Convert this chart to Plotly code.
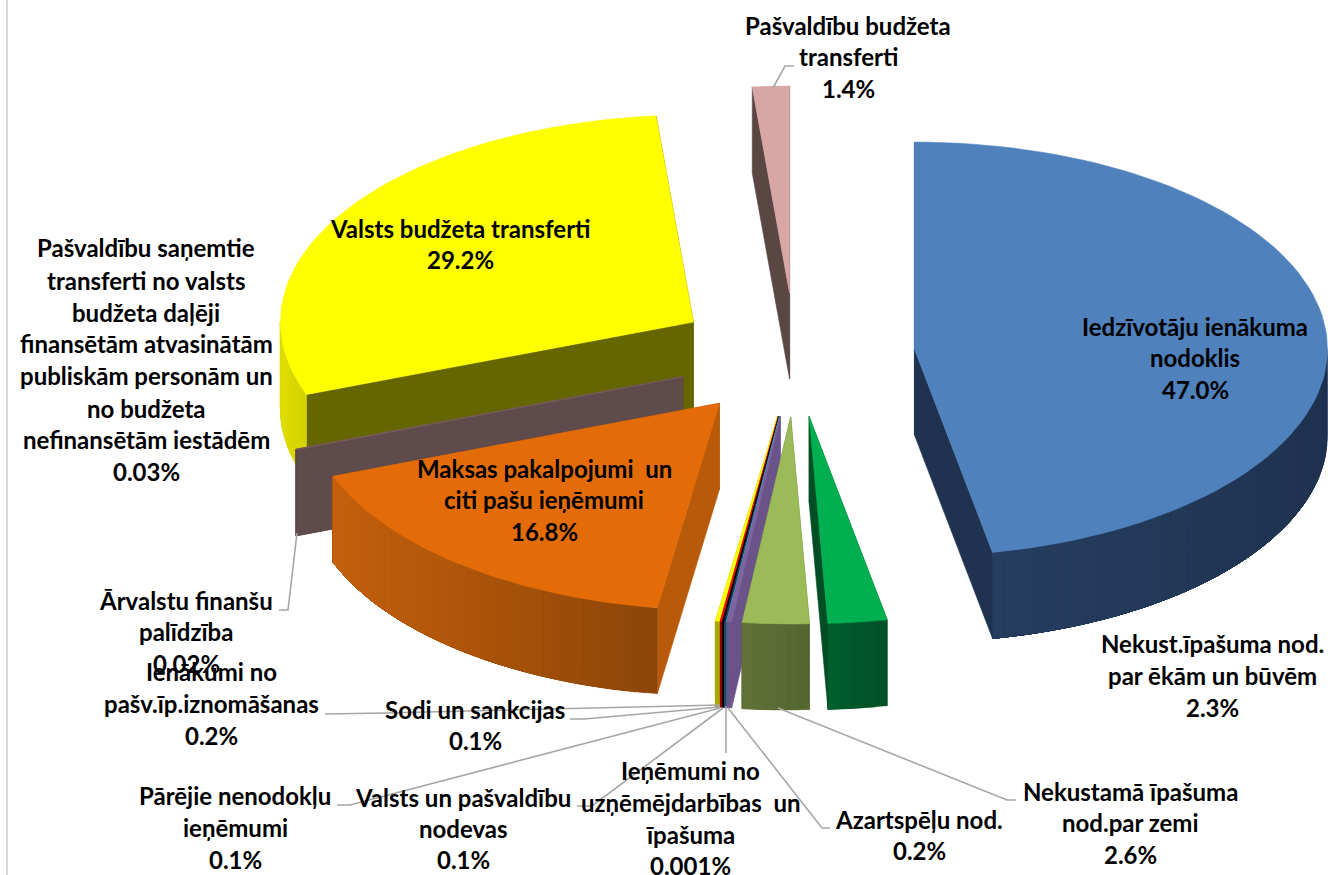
import math
import plotly.graph_objects as go

# ---- data: clockwise from 12 o'clock ----
categories = [
    "Iedzīvotāju ienākuma nodoklis",
    "Nekust.īpašuma nod. par ēkām un būvēm",
    "Nekustamā īpašuma nod.par zemi",
    "Azartspēļu nod.",
    "Ieņēmumi no uzņēmējdarbības un īpašuma",
    "Valsts un pašvaldību nodevas",
    "Pārējie nenodokļu ieņēmumi",
    "Sodi un sankcijas",
    "Ienākumi no pašv.īp.iznomāšanas",
    "Maksas pakalpojumi un citi pašu ieņēmumi",
    "Ārvalstu finanšu palīdzība",
    "Pašvaldību saņemtie transferti no valsts budžeta daļēji finansētām atvasinātām publiskām personām un no budžeta nefinansētām iestādēm",
    "Valsts budžeta transferti",
    "Pašvaldību budžeta transferti",
]
# slice sizes; the printed labels are these values rounded
values = [46.95, 2.3, 2.6, 0.17, 0.001, 0.07, 0.06, 0.07, 0.16, 16.84, 0.02, 0.03, 29.24, 1.44]

top_colors = ["#4f81bd", "#00b050", "#9bbb59", "#8064a2", "#4bacc6", "#1f3864", "#000000",
              "#ff0000", "#ffff00", "#e36c09", "#7f6060", "#7f6060", "#ffff00", "#d9a6a6"]
wall_colors = ["#1f3350", "#004f24", "#5f7038", "#6a5388", "#2f6f80", "#2a4a6a", "#000000",
               "#8a0000", "#a8a800", "#b85a0a", "#5f4b4b", "#5f4b4b", "#666600", "#5a4744"]
rim_left = ["#263e60", "#005e2d", "#617238", "#6a5388", "#2f6f80", "#2a4a6a", "#000000",
            "#8a0000", "#a8a800", "#c4600c", "#5f4b4b", "#5f4b4b", "#dede00", "#5a4744"]
rim_right = ["#1f3350", "#005026", "#556530", "#6a5388", "#2f6f80", "#2a4a6a", "#000000",
             "#8a0000", "#a8a800", "#8c4508", "#5f4b4b", "#5f4b4b", "#d2d200", "#5a4744"]
draw_order = [13, 12, 11, 10, 0, 9, 8, 7, 6, 5, 4, 3, 2, 1]

# (centre x, [(line centre y, text), ...])
labels = [
    (848, [(27, "Pašvaldību budžeta"), (58, "transferti"), (90, "1.4%")]),
    (1195, [(328, "Iedzīvotāju ienākuma"), (359, "nodoklis"), (391, "47.0%")]),
    (460, [(230, "Valsts budžeta transferti"), (261, "29.2%")]),
    (146, [(249, "Pašvaldību saņemtie"), (282, "transferti no valsts"), (314, "budžeta daļēji"),
           (345, "finansētām atvasinātām"), (377, "publiskām personām un"), (410, "no budžeta"),
           (441, "nefinansētām iestādēm"), (473, "0.03%")]),
    (544, [(470, "Maksas pakalpojumi  un"), (501, "citi pašu ieņēmumi"), (533, "16.8%")]),
    (186, [(602, "Ārvalstu finanšu"), (633, "palīdzība"), (665, "0.02%")]),
    (211, [(673, "Ienākumi no"), (705, "pašv.īp.iznomāšanas"), (737, "0.2%")]),
    (475, [(711, "Sodi un sankcijas"), (742, "0.1%")]),
    (235, [(797, "Pārējie nenodokļu"), (829, "ieņēmumi"), (861, "0.1%")]),
    (463, [(799, "Valsts un pašvaldību"), (830, "nodevas"), (861, "0.1%")]),
    (690, [(772, "Ieņēmumi no"), (804, "uzņēmējdarbības  un"), (836, "īpašuma"), (867, "0.001%")]),
    (919, [(821, "Azartspēļu nod."), (852, "0.2%")]),
    (1130, [(793, "Nekustamā īpašuma"), (824, "nod.par zemi"), (856, "2.6%")]),
    (1212, [(645, "Nekust.īpašuma nod."), (677, "par ēkām un būvēm"), (709, "2.3%")]),
]

leaders = [
    [(773, 88), (785, 66), (794, 66)],
    [(297, 533), (288, 610), (279, 610)],
    [(325, 714), (385, 713), (720, 705)],
    [(570, 719), (584, 719), (720, 707)],
    [(337, 805), (350, 805), (720, 708)],
    [(577, 806), (592, 806), (723, 708)],
    [(726, 706), (726, 753)],
    [(728, 708), (822, 828), (830, 828)],
    [(778, 708), (1007, 800), (1016, 800)],
]

# ---- projection of the tilted, exploded pie ----
CX, CY = 795, 355
RX, RY = 413, 207
EX, EY = 120, 62
DEPTH = 86
FONT = "Lato"
FONT_SIZE = 24
TEXT_SHIFT = -1.5


def mix(a, b, t):
    pa = [int(a[i:i + 2], 16) for i in (1, 3, 5)]
    pb = [int(b[i:i + 2], 16) for i in (1, 3, 5)]
    return "#%02x%02x%02x" % tuple(round(p + (q - p) * t) for p, q in zip(pa, pb))


fig = go.Figure()


def poly(points, color, name, width=0.6):
    xs = [p[0] for p in points] + [points[0][0]]
    ys = [p[1] for p in points] + [points[0][1]]
    fig.add_trace(go.Scatter(x=xs, y=ys, mode="lines", fill="toself", fillcolor=color,
                             line=dict(color=color, width=width), name=name,
                             hoverinfo="name", showlegend=False))


total = sum(values)
spans = []
acc = 0.0
for v in values:
    spans.append((acc / total * 360, (acc + v) / total * 360))
    acc += v

for i in draw_order:
    a0, a1 = spans[i]
    mid = math.radians((a0 + a1) / 2)
    ox = CX + EX * math.sin(mid)
    oy = CY - EY * math.cos(mid)

    def rim(deg):
        r = math.radians(deg)
        return (ox + RX * math.sin(r), oy - RY * math.cos(r))

    def down(p):
        return (p[0], p[1] + DEPTH)

    name = categories[i]
    apex = (ox, oy)
    # the two cut walls
    for ang in (a0, a1):
        p = rim(ang)
        poly([apex, p, down(p), down(apex)], wall_colors[i], name)
    # the outer rim, front half only: each band runs to the far end and the next overdraws it
    lo, hi = max(a0, 90), min(a1, 270)
    if hi > lo:
        n = max(1, int((hi - lo) / 1.5))
        xa, xb = rim(lo)[0], rim(hi)[0]
        left, right = min(xa, xb), max(xa, xb)
        for k in range(n):
            s0 = lo + (hi - lo) * k / n
            s1 = lo + (hi - lo) * (k + 1) / n
            m = max(2, int((hi - s0) / 2))
            pts = [rim(s0 + (hi - s0) * j / m) for j in range(m + 1)]
            xm = (rim(s0)[0] + rim(s1)[0]) / 2
            t = (xm - left) / (right - left) if right > left else 0
            poly(pts + [down(p) for p in reversed(pts)], mix(rim_left[i], rim_right[i], t), name, 0.3)
    # the top face
    n = max(2, int((a1 - a0) / 2))
    poly([apex] + [rim(a0 + (a1 - a0) * j / n) for j in range(n + 1)], top_colors[i], name)

for path in leaders:
    fig.add_trace(go.Scatter(x=[p[0] for p in path], y=[p[1] for p in path], mode="lines",
                             line=dict(color="#a6a6a6", width=1.6), hoverinfo="skip", showlegend=False))

# left border of the chart area
fig.add_shape(type="line", x0=7, x1=7, y0=0, y1=875, line=dict(color="#d9d9d9", width=2))

for cx, lines in labels:
    for y, text in lines:
        fig.add_annotation(x=cx, y=y + TEXT_SHIFT, text=text, showarrow=False, xanchor="center",
                           yanchor="middle",
                           font=dict(family=FONT, size=FONT_SIZE, color="#000000", weight="bold"))

fig.update_layout(
    width=1328, height=875, margin=dict(l=0, r=0, t=0, b=0),
    paper_bgcolor="#ffffff", plot_bgcolor="#ffffff", showlegend=False,
    xaxis=dict(range=[0, 1328], visible=False, fixedrange=True),
    yaxis=dict(range=[875, 0], visible=False, fixedrange=True),
)
fig.write_html("out.html", config={"displayModeBar": False},
               post_script="document.body.style.margin='0';document.documentElement.style.overflow='hidden';")
